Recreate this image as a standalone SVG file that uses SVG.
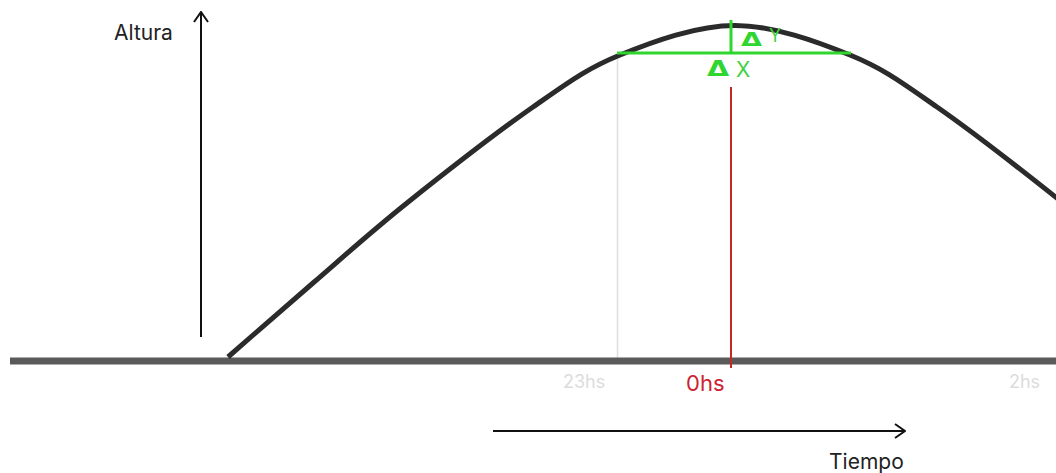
<svg xmlns="http://www.w3.org/2000/svg" width="1056" height="473" viewBox="0 0 1056 473">
<style>
.lbl{font-family:Inter,"Liberation Sans",sans-serif;fill:#222}
.hs{font-family:Inter,"Liberation Sans",sans-serif;fill:#dcdcdc}
.grn{font-family:Inter,"Liberation Sans",sans-serif;fill:#3fd23f}
.tri{font-family:"DejaVu Sans",sans-serif;font-weight:bold;fill:#2fd62f}
.axis{stroke:#111;stroke-width:2;fill:none}
</style>
<defs>
<marker id="chev" viewBox="0 0 12 16" refX="11" refY="8" markerWidth="12" markerHeight="16" markerUnits="userSpaceOnUse" orient="auto">
<path d="M1,1 L11,8 L1,15" fill="none" stroke="#111" stroke-width="2"/>
</marker>
</defs>
<rect width="1056" height="473" fill="#fff"/>
<g id="guides">
<line x1="617.5" y1="55" x2="617.5" y2="364" stroke="#dedede" stroke-width="1.5"/>
</g>
<g id="ground">
<line x1="10" y1="361" x2="1056" y2="361" stroke="#5a5a5a" stroke-width="7"/>
</g>
<g id="curve">
<path d="M228,357 C256.3,332.3 283.2,308.7 313,283 C342.8,257.3 370.3,232.3 407,203 C443.7,173.7 497.5,131.7 533,107 C568.5,82.3 586.3,68.7 620,55 C653.7,41.3 696.7,25.5 735,25.5 C773.3,25.5 816.3,41.3 850,55 C883.7,68.7 901.5,82.3 937,107 C972.5,131.7 1026.3,173.7 1063,203" fill="none" stroke="#2b2b2b" stroke-width="5"/>
</g>
<g id="connectors">
<line class="axis" x1="201" y1="337" x2="201" y2="12" marker-end="url(#chev)"/>
<line class="axis" x1="493" y1="431" x2="905" y2="431" marker-end="url(#chev)"/>
<line x1="731" y1="87" x2="731" y2="368" stroke="#c62828" stroke-width="2"/>
<line x1="617" y1="53" x2="851" y2="53" stroke="#2fd62f" stroke-width="3"/>
<line x1="731" y1="20" x2="731" y2="53" stroke="#2fd62f" stroke-width="3"/>
</g>
<g id="labels">
<text class="lbl" x="114" y="40" font-size="21">Altura</text>
<text class="lbl" x="829" y="469" font-size="21">Tiempo</text>
<text class="hs" x="563" y="388" font-size="18">23hs</text>
<text class="hs" x="1009" y="388" font-size="18">2hs</text>
<text x="686" y="391" font-size="22" font-family="Inter,'Liberation Sans',sans-serif" fill="#cc2233">0hs</text>
</g>
<g id="deltaX">
<text class="tri" transform="translate(707,75.5) scale(1.3,0.95)" font-size="22">Δ</text>
<text class="grn" x="736" y="77" font-size="21">X</text>
</g>
<g id="deltaY">
<text class="tri" transform="translate(741,46) scale(1.3,0.9)" font-size="21">Δ</text>
<text class="grn" x="769" y="42" font-size="18">Y</text>
</g>
</svg>
